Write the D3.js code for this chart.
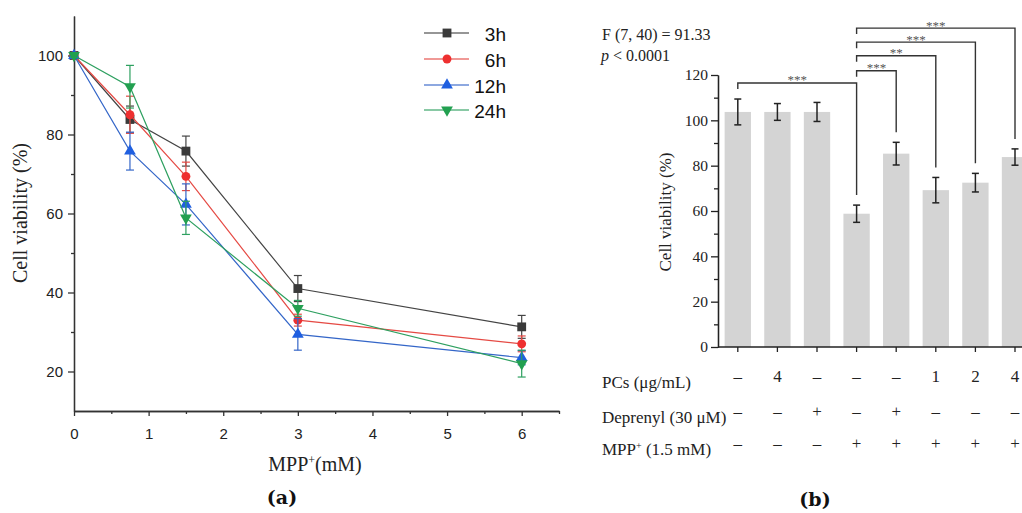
<!DOCTYPE html>
<html><head><meta charset="utf-8">
<script src="https://cdn.jsdelivr.net/npm/d3@7"></script>
<style>
body{margin:0;background:#fff;}
svg{display:block;}
</style>
</head><body><svg id="c" width="1022" height="513"></svg>
<script>
// ---------- Panel (a) data ----------
const concentrations = [0, 0.75, 1.5, 3, 6];
const seriesNames = ["3h", "6h", "12h", "24h"];
const viab3h  = [100, 83.8, 75.8, 41.0, 31.3];
const sd3h    = [0.5, 3.4, 3.8, 3.3, 2.9];
const viab6h  = [100, 85.0, 69.4, 33.0, 27.0];
const sd6h    = [0.5, 4.7, 3.6, 1.5, 2.0];
const viab12h = [100, 75.8, 62.3, 29.4, 23.5];
const sd12h   = [0.5, 4.8, 5.2, 4.0, 1.8];
const viab24h = [100, 92.1, 58.9, 36.0, 22.0];
const sd24h   = [0.5, 5.4, 4.2, 2.0, 3.4];
const xTicksA = [0, 1, 2, 3, 4, 5, 6];
const yTicksA = [20, 40, 60, 80, 100];

// ---------- Panel (b) data ----------
const groups = ["G1", "G2", "G3", "G4", "G5", "G6", "G7", "G8"];
const meanB = [103.7, 103.7, 103.7, 58.8, 85.3, 69.2, 72.5, 83.8];
const sdB   = [5.7, 3.7, 4.2, 3.8, 5.0, 5.6, 4.1, 3.6];
const pcsRow      = ["–", "4", "–", "–", "–", "1", "2", "4"];
const deprenylRow = ["–", "–", "+", "–", "+", "–", "–", "–"];
const mppRow      = ["–", "–", "–", "+", "+", "+", "+", "+"];
const yTicksB = [0, 20, 40, 60, 80, 100, 120];
const compFrom  = [0, 3, 3, 3, 3];
const compTo    = [3, 4, 5, 6, 7];
const compLabel = ["***", "***", "**", "***", "***"];
const compLevel = [116.5, 121.9, 128.5, 134.5, 140.7];

const svg = d3.select("#c");
const sans = "'Liberation Sans', Arial, sans-serif";
const serif = "'Liberation Serif', 'Times New Roman', serif";

function styleAxis(g, color, font, size) {
  g.select(".domain").attr("stroke", color).attr("stroke-width", 1.3);
  g.selectAll(".tick line").attr("stroke", color).attr("stroke-width", 1.3);
  g.selectAll(".tick text").attr("fill", "#222").style("font-family", font).style("font-size", size + "px");
}

// ================= Panel (a) =================
const xA = d3.scaleLinear().domain([0, 6.5]).range([74, 559]);
const yA = d3.scaleLinear().domain([10, 110]).range([411, 16]);
const gA = svg.append("g");

// minor ticks
gA.append("g").attr("transform", "translate(0,411)")
  .call(d3.axisBottom(xA).tickValues(d3.range(0.5, 6.6, 1)).tickSize(3).tickSizeOuter(0).tickFormat(""))
  .call(g => styleAxis(g, "#333", sans, 14));
gA.append("g").attr("transform", "translate(0,411)")
  .call(d3.axisBottom(xA).tickValues(xTicksA).tickSize(5).tickSizeOuter(0).tickPadding(12).tickFormat(d3.format("d")))
  .call(g => styleAxis(g, "#333", sans, 15));
gA.append("g").attr("transform", "translate(74,0)")
  .call(d3.axisLeft(yA).tickValues([30, 50, 70, 90]).tickSize(3).tickSizeOuter(0).tickFormat(""))
  .call(g => styleAxis(g, "#333", sans, 14));
gA.append("g").attr("transform", "translate(74,0)")
  .call(d3.axisLeft(yA).tickValues(yTicksA).tickSize(6).tickSizeOuter(0).tickPadding(5).tickFormat(d3.format("d")))
  .call(g => styleAxis(g, "#333", sans, 15));

const seriesA = [
  {name: seriesNames[0], v: viab3h,  sd: sd3h,  line: "#444444", mark: "#3a3a3a", sym: d3.symbolSquare, size: 78, rot: 0},
  {name: seriesNames[1], v: viab6h,  sd: sd6h,  line: "#e54a44", mark: "#ee3030", sym: d3.symbolCircle, size: 62, rot: 0},
  {name: seriesNames[2], v: viab12h, sd: sd12h, line: "#3466c8", mark: "#1f5fe0", sym: d3.symbolTriangle, size: 60, rot: 0},
  {name: seriesNames[3], v: viab24h, sd: sd24h, line: "#2ea060", mark: "#22a050", sym: d3.symbolTriangle, size: 60, rot: 180}
];

const lineGen = d3.line().x((d, i) => xA(concentrations[i])).y(d => yA(d));

seriesA.forEach(s => {
  const g = gA.append("g");
  g.append("path").attr("d", lineGen(s.v)).attr("fill", "none")
    .attr("stroke", s.line).attr("stroke-width", 1.2);
  s.v.forEach((val, i) => {
    const cx = xA(concentrations[i]);
    const t = yA(val + s.sd[i]), b = yA(val - s.sd[i]);
    g.append("line").attr("x1", cx).attr("x2", cx).attr("y1", t).attr("y2", b)
      .attr("stroke", s.line).attr("stroke-width", 1.2);
    [t, b].forEach(yy => g.append("line").attr("x1", cx - 4).attr("x2", cx + 4)
      .attr("y1", yy).attr("y2", yy).attr("stroke", s.line).attr("stroke-width", 1.2));
  });
  s.v.forEach((val, i) => {
    g.append("path").attr("d", d3.symbol().type(s.sym).size(s.size)())
      .attr("transform", `translate(${xA(concentrations[i])},${yA(val)}) rotate(${s.rot})`)
      .attr("fill", s.mark);
  });
});

// legend
const legY = [33, 59, 85, 110];
seriesA.forEach((s, i) => {
  const g = gA.append("g").attr("transform", `translate(0,${legY[i]})`);
  g.append("line").attr("x1", 424).attr("x2", 469).attr("y1", 0).attr("y2", 0)
    .attr("stroke", s.line).attr("stroke-width", 1.3).attr("opacity", 0.75);
  g.append("path").attr("d", d3.symbol().type(s.sym).size(s.size)())
    .attr("transform", `translate(447,0) rotate(${s.rot})`).attr("fill", s.mark);
  g.append("text").attr("x", 506).attr("y", 7.5).attr("text-anchor", "end")
    .style("font-family", sans).style("font-size", "19px").attr("fill", "#111").text(s.name);
});

// axis titles
gA.append("text").attr("transform", "translate(27,213) rotate(-90)").attr("text-anchor", "middle")
  .style("font-family", serif).style("font-size", "20px").attr("fill", "#222").text("Cell viability (%)");
const xt = gA.append("text").attr("x", 315).attr("y", 471).attr("text-anchor", "middle")
  .style("font-family", serif).style("font-size", "20px").attr("fill", "#222");
xt.append("tspan").text("MPP");
xt.append("tspan").attr("dy", -7).style("font-size", "12px").text("+");
xt.append("tspan").attr("dy", 7).text("(mM)");

svg.append("text").attr("x", 282).attr("y", 504).attr("text-anchor", "middle")
  .style("font-family", "'DejaVu Serif', serif").style("font-weight", "bold").style("font-size", "19px")
  .attr("fill", "#111").text("(a)");

// ================= Panel (b) =================
const xB = d3.scaleBand().domain(groups).range([718, 1034.8]).paddingInner(0.335).paddingOuter(0.1675);
const yB = d3.scaleLinear().domain([0, 120]).range([347, 75]);
const gB = svg.append("g");
const cx = i => xB(groups[i]) + xB.bandwidth() / 2;

gB.selectAll("rect.bar").data(meanB).enter().append("rect")
  .attr("x", (d, i) => xB(groups[i])).attr("width", xB.bandwidth())
  .attr("y", d => yB(d)).attr("height", d => yB(0) - yB(d)).attr("fill", "#d4d4d4");

meanB.forEach((m, i) => {
  const t = yB(m + sdB[i]), b = yB(m - sdB[i]);
  gB.append("line").attr("x1", cx(i)).attr("x2", cx(i)).attr("y1", t).attr("y2", b)
    .attr("stroke", "#222").attr("stroke-width", 1.5);
  [t, b].forEach(yy => gB.append("line").attr("x1", cx(i) - 3.5).attr("x2", cx(i) + 3.5)
    .attr("y1", yy).attr("y2", yy).attr("stroke", "#222").attr("stroke-width", 1.5));
});

// axes
gB.append("g").attr("transform", "translate(0,347)")
  .call(d3.axisBottom(xB).tickSize(5).tickSizeOuter(0).tickFormat(""))
  .call(g => { styleAxis(g, "#222", serif, 15); g.select(".domain").attr("d", "M718,0H1022"); });
gB.append("g").attr("transform", "translate(718,0)")
  .call(d3.axisLeft(yB).tickValues([10, 30, 50, 70, 90, 110]).tickSize(4).tickSizeOuter(0).tickFormat(""))
  .call(g => styleAxis(g, "#222", serif, 15));
gB.append("g").attr("transform", "translate(718,0)")
  .call(d3.axisLeft(yB).tickValues(yTicksB).tickSize(7).tickSizeOuter(0).tickPadding(3).tickFormat(d3.format("d")))
  .call(g => styleAxis(g, "#222", serif, 15.5));

gB.append("text").attr("transform", "translate(671,212) rotate(-90)").attr("text-anchor", "middle")
  .style("font-family", serif).style("font-size", "17px").attr("fill", "#222").text("Cell viability (%)");

// significance brackets
compFrom.forEach((f, k) => {
  const to = compTo[k];
  const ly = yB(compLevel[k]);
  const x1 = cx(f), x2 = cx(to);
  const rEnd = yB(meanB[to] + sdB[to]) - 10;
  gB.append("path").attr("d", `M${x1},${ly + 6}V${ly}H${x2}V${rEnd}`)
    .attr("fill", "none").attr("stroke", "#333").attr("stroke-width", 1.4);
  gB.append("text").attr("x", (x1 + x2) / 2).attr("y", ly + 1.5).attr("text-anchor", "middle")
    .style("font-family", serif).style("font-size", "13px").attr("fill", "#555").text(compLabel[k]);
});

// stats text
gB.append("text").attr("x", 602).attr("y", 40).style("font-family", serif).style("font-size", "16px")
  .attr("fill", "#222").text("F (7, 40) = 91.33");
const pt = gB.append("text").attr("x", 601).attr("y", 61).style("font-family", serif).style("font-size", "16px").attr("fill", "#222");
pt.append("tspan").style("font-style", "italic").text("p");
pt.append("tspan").text(" < 0.0001");

// condition table
const rows = [
  {label: [["PCs (μg/mL)"]], vals: pcsRow, y: 382},
  {label: [["Deprenyl (30 μM)"]], vals: deprenylRow, y: 417},
  {label: [["MPP"], ["+", "sup"], [" (1.5 mM)"]], vals: mppRow, y: 449}
];
rows.forEach(r => {
  const t = gB.append("text").attr("x", 602).attr("y", r.y).style("font-family", serif)
    .style("font-size", "17px").attr("fill", "#222");
  r.label.forEach(p => {
    if (p[1] === "sup") t.append("tspan").attr("dy", -6).style("font-size", "10px").text(p[0]);
    else t.append("tspan").attr("dy", t.selectAll("tspan").size() ? 6 : 0).text(p[0]);
  });
  r.vals.forEach((v, i) => gB.append("text").attr("x", cx(i)).attr("y", r.y).attr("text-anchor", "middle")
    .style("font-family", serif).style("font-size", "17px").attr("fill", "#222").text(v));
});

svg.append("text").attr("x", 815).attr("y", 506).attr("text-anchor", "middle")
  .style("font-family", "'DejaVu Serif', serif").style("font-weight", "bold").style("font-size", "19px")
  .attr("fill", "#111").text("(b)");
</script>
</body></html>
